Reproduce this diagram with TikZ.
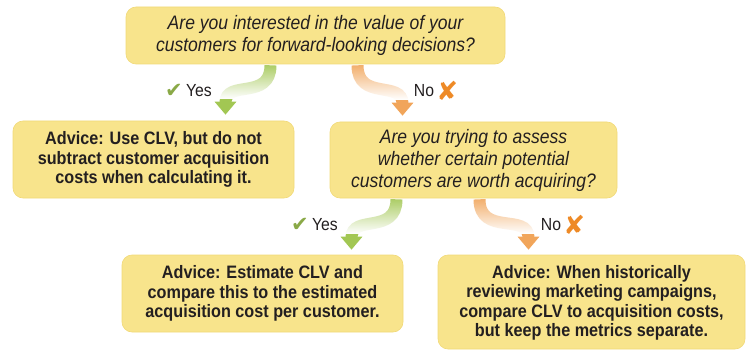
\documentclass[tikz,border=0pt]{standalone}
\usepackage{fontspec}
\setmainfont{Liberation Sans}[FakeStretch=0.9]
\newfontfamily\symfont{DejaVu Sans}
\usetikzlibrary{arrows.meta,fadings,positioning}

\definecolor{boxyellow}{HTML}{F8E48C}
\definecolor{boxedge}{HTML}{F1D978}
\definecolor{inkgray}{HTML}{231F20}
\definecolor{yesgreen}{HTML}{A2C753}
\definecolor{nored}{HTML}{F1A55A}
\definecolor{crossorange}{HTML}{EE8A26}

\tikzfading[name=whiten, top color=transparent!88, bottom color=transparent!0]

\tikzset{
  box/.style={draw=boxedge, line width=0.6pt, fill=boxyellow, rounded corners=10pt,
    align=center, inner sep=0pt, text=inkgray},
  question/.style={box, font=\fontsize{19.5}{22}\selectfont\itshape},
  advice/.style={box, font=\fontsize{18}{19.3}\selectfont\bfseries},
  answer/.style={text=inkgray, font=\fontsize{17.5}{20}\selectfont, inner sep=0pt},
  tick/.style={text=yesgreen!85!black, font=\fontsize{21}{21}\selectfont\symfont, inner sep=0pt},
  cross/.style={text=crossorange, font=\fontsize{26}{26}\selectfont\symfont, inner sep=0pt},
  flow/.style={line width=12pt, looseness=1.35, -{Triangle[width=21pt,length=13pt]}},
  yesflow/.style={flow, draw=yesgreen},
  noflow/.style={flow, draw=nored},
  paleover/.style={fill=white, path fading=whiten}
}

\begin{document}
\begin{tikzpicture}[x=1pt,y=-1pt]
  \useasboundingbox (0,0) rectangle (749,350);

  % Define nodes
  \node[question, minimum width=379pt, minimum height=57pt] (q1) at (315.5,35.5)
    {Are you interested in the value of your\\customers for forward-looking decisions?};
  \node[advice, minimum width=281pt, minimum height=77pt] (clv) at (153.5,159.5)
    {Advice: Use CLV, but do not\\subtract customer acquisition\\costs when calculating it.};
  \node[question, minimum width=287pt, minimum height=76pt] (q2) at (473.5,160)
    {Are you trying to assess\\whether certain potential\\customers are worth acquiring?};
  \node[advice, minimum width=281pt, minimum height=77pt] (est) at (262.5,293.5)
    {Advice: Estimate CLV and\\compare this to the estimated\\acquisition cost per customer.};
  \node[advice, minimum width=307pt, minimum height=94pt] (hist) at (591.5,302)
    {\rule{0pt}{15pt}Advice: When historically\\reviewing marketing campaigns,\\compare CLV to acquisition costs,\\but keep the metrics separate.};

  % Connect the nodes
  \coordinate (y1a) at ([xshift=-45pt,yshift=-1pt]q1.south);
  \coordinate (y1b) at ([xshift=72pt,yshift=6pt]clv.north);
  \coordinate (n1a) at ([xshift=42pt,yshift=-1pt]q1.south);
  \coordinate (n1b) at ([xshift=-71pt,yshift=6pt]q2.north);
  \coordinate (y2a) at ([xshift=-77pt,yshift=-1pt]q2.south);
  \coordinate (y2b) at ([xshift=89pt,yshift=5pt]est.north);
  \coordinate (n2a) at ([xshift=6pt,yshift=-1pt]q2.south);
  \coordinate (n2b) at ([xshift=-63pt,yshift=5pt]hist.north);

  \draw[yesflow] (y1a) to[out=-90,in=90] (y1b);
  \fill[paleover] ([xshift=14pt]y1a) rectangle ([xshift=-18pt,yshift=16pt]y1b);
  \draw[noflow] (n1a) to[out=-90,in=90] (n1b);
  \fill[paleover] ([xshift=-14pt]n1a) rectangle ([xshift=18pt,yshift=16pt]n1b);
  \draw[yesflow] (y2a) to[out=-90,in=90] (y2b);
  \fill[paleover] ([xshift=14pt]y2a) rectangle ([xshift=-18pt,yshift=16pt]y2b);
  \draw[noflow] (n2a) to[out=-90,in=90] (n2b);
  \fill[paleover] ([xshift=-14pt]n2a) rectangle ([xshift=18pt,yshift=16pt]n2b);

  % Answer labels
  \node[answer] (yes1) at (199,91) {Yes};
  \node[tick, left=3pt of yes1] (tick1) {✔};
  \node[answer] (no1) at (424,91) {No};
  \node[cross, right=2pt of no1] (cross1) {✘};
  \node[answer] (yes2) at (325,225) {Yes};
  \node[tick, left=3pt of yes2] (tick2) {✔};
  \node[answer] (no2) at (551,225) {No};
  \node[cross, right=2pt of no2] (cross2) {✘};

\end{tikzpicture}
\end{document}
